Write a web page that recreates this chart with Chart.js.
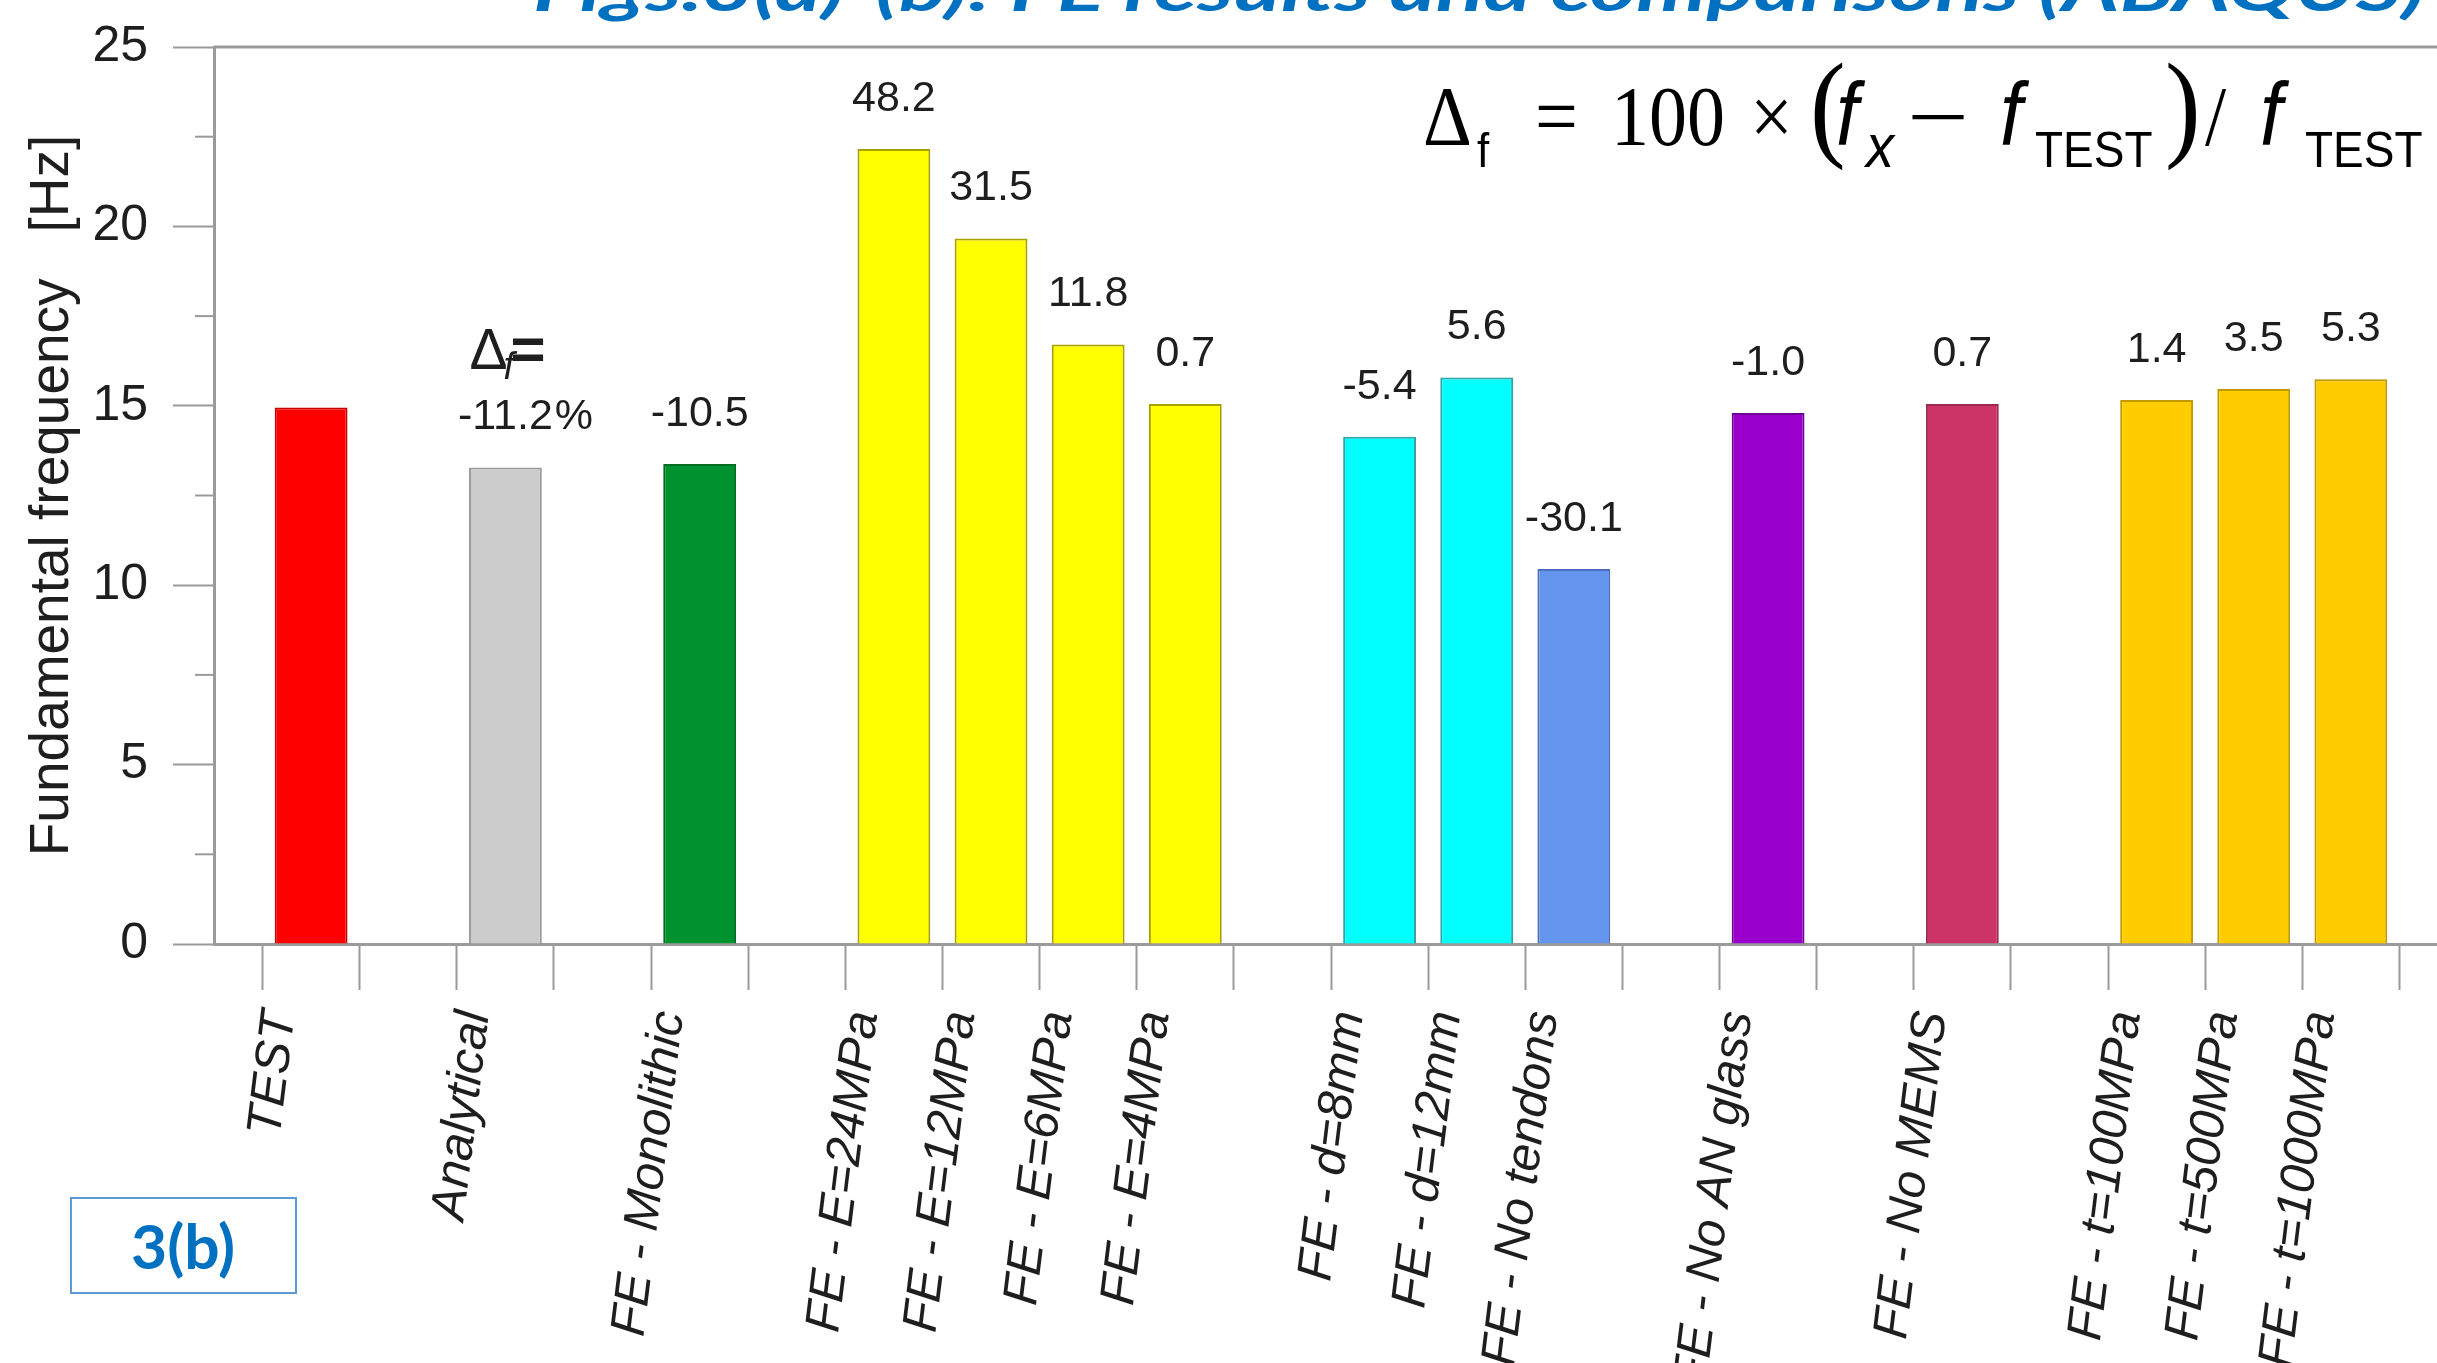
<!DOCTYPE html>
<html>
<head>
<meta charset="utf-8">
<title>Fundamental frequency – FE results and comparisons</title>
<script src="https://cdn.jsdelivr.net/npm/chart.js@4.4.1/dist/chart.umd.min.js"></script>
<style>
  html, body { margin: 0; padding: 0; background: #ffffff; overflow: hidden; width: 2437px; height: 1363px; }
  #plot { position: absolute; left: 0; top: 0; width: 2448px; height: 1363px; }
  #overlay { position: absolute; left: 0; top: 0; width: 2437px; height: 1363px; pointer-events: none; }
</style>
</head>
<body>
<div id="plot"><canvas id="freqChart"></canvas></div>

<svg id="overlay" xmlns="http://www.w3.org/2000/svg" width="2437" height="1363" viewBox="0 0 2437 1363">
  <!-- slide heading (its upper part runs off the top of the page) -->
  <text x="533" y="11" textLength="1892" lengthAdjust="spacingAndGlyphs"
        font-family="Lato, 'Open Sans', sans-serif" font-weight="700" font-style="italic"
        font-size="62" fill="#0070C0">Figs.3(a)-(b): FE results and comparisons (ABAQUS)</text>

  <!-- definition of the percentage difference -->
  <g transform="translate(0,145) scale(1,1.1) translate(0,-145)" fill="#000000">
    <text x="1423" y="145" font-family="'Liberation Serif', serif" font-size="76">Δ</text>
    <text x="1477" y="165" font-family="'Liberation Sans', sans-serif" font-size="44">f</text>
    <text x="1535" y="145" font-family="'Liberation Serif', serif" font-size="76">=</text>
    <text x="1611" y="145" font-family="'Liberation Serif', serif" font-size="76">100</text>
    <text x="1750" y="145" font-family="'Liberation Serif', serif" font-size="76">×</text>
    <text x="1810" y="145" font-family="'Liberation Serif', serif" font-size="107">(</text>
    <text x="1836" y="145" font-family="'Liberation Sans', sans-serif" font-style="italic" font-size="80">f</text>
    <text x="1866" y="165" font-family="'Liberation Sans', sans-serif" font-style="italic" font-size="56">x</text>
    <text x="1907" y="145" textLength="62" lengthAdjust="spacingAndGlyphs" font-family="'Liberation Serif', serif" font-size="76">−</text>
    <text x="2000" y="145" font-family="'Liberation Sans', sans-serif" font-style="italic" font-size="80">f</text>
    <text x="2035" y="165" font-family="'Liberation Sans', sans-serif" font-size="46">TEST</text>
    <text x="2165" y="145" font-family="'Liberation Serif', serif" font-size="107">)</text>
    <text x="2205" y="145" font-family="'Liberation Serif', serif" font-size="76">/</text>
    <text x="2260" y="145" font-family="'Liberation Sans', sans-serif" font-style="italic" font-size="80">f</text>
    <text x="2305" y="165" font-family="'Liberation Sans', sans-serif" font-size="46">TEST</text>
  </g>

  <!-- panel tag -->
  <rect x="71" y="1198" width="225" height="95" fill="#ffffff" stroke="#5B9BD5" stroke-width="2"/>
  <text x="183" y="1269" text-anchor="middle" textLength="104" lengthAdjust="spacingAndGlyphs"
        font-family="Lato, 'Open Sans', sans-serif" font-weight="700" font-size="62" fill="#0070C0">3(b)</text>
</svg>

<script>
// ---- data -------------------------------------------------------------
const categories = [
  'TEST', 'Analytical', 'FE - Monolithic',
  'FE - E=24MPa', 'FE - E=12MPa', 'FE - E=6MPa', 'FE - E=4MPa',
  'FE - d=8mm', 'FE - d=12mm', 'FE - No tendons',
  'FE - No AN glass', 'FE - No MEMS',
  'FE - t=100MPa', 'FE - t=500MPa', 'FE - t=1000MPa'
];
// which cluster each case belongs to (clusters are separated by an empty slot)
const groupIndex = [0, 1, 2, 3, 3, 3, 3, 4, 4, 4, 5, 6, 7, 7, 7];
// fundamental frequency [Hz]
const frequencyHz = [14.95, 13.28, 13.38, 22.16, 19.66, 16.71, 15.05, 14.14, 15.79, 10.45, 14.80, 15.05, 15.16, 15.47, 15.74];
// difference from TEST, printed over each bar
const deltaLabels = ['', '-11.2%', '-10.5', '48.2', '31.5', '11.8', '0.7', '-5.4', '5.6', '-30.1', '-1.0', '0.7', '1.4', '3.5', '5.3'];
const yTickValues = [0, 5, 10, 15, 20, 25];

// ---- styles -----------------------------------------------------------
const barFill = ['#FF0000', '#CCCCCC', '#00922F', '#FFFF00', '#FFFF00', '#FFFF00', '#FFFF00',
                 '#00FFFF', '#00FFFF', '#6495ED', '#9900CC', '#CC3366', '#FFCC00', '#FFCC00', '#FFCC00'];
const barEdge = ['#C80000', '#9A9A9A', '#006E22', '#A8A200', '#A8A200', '#A8A200', '#A8A200',
                 '#2FA5A5', '#2FA5A5', '#4A6FBE', '#6E0096', '#9C2A52', '#C09A00', '#C09A00', '#C09A00'];
const AXIS_GREY = '#9a9a9a';
const INK = '#1e1e1e';
const SANS = '"Liberation Sans", Arial, Helvetica, sans-serif';

// ---- category slots with an empty slot between clusters and at both ends
const slotLabels = [''], slotValues = [null], slotFill = ['rgba(0,0,0,0)'], slotEdge = ['rgba(0,0,0,0)'], slotDelta = [''];
categories.forEach((name, i) => {
  if (i > 0 && groupIndex[i] !== groupIndex[i - 1]) {
    slotLabels.push(''); slotValues.push(null); slotFill.push('rgba(0,0,0,0)'); slotEdge.push('rgba(0,0,0,0)'); slotDelta.push('');
  }
  slotLabels.push(name); slotValues.push(frequencyHz[i]); slotFill.push(barFill[i]); slotEdge.push(barEdge[i]); slotDelta.push(deltaLabels[i]);
});
slotLabels.push(''); slotValues.push(null); slotFill.push('rgba(0,0,0,0)'); slotEdge.push('rgba(0,0,0,0)'); slotDelta.push('');

// frame line along the top and short minor ticks on the value axis
const frameAndMinorTicks = {
  id: 'frameAndMinorTicks',
  afterDraw(chart) {
    const { ctx, chartArea, scales } = chart;
    ctx.save();
    ctx.strokeStyle = AXIS_GREY;
    ctx.lineWidth = 3;
    ctx.beginPath();
    ctx.moveTo(chartArea.left, chartArea.top);
    ctx.lineTo(chartArea.right, chartArea.top);
    ctx.stroke();
    ctx.lineWidth = 2;
    for (let k = 0; k < yTickValues.length - 1; k++) {
      const v = (yTickValues[k] + yTickValues[k + 1]) / 2;
      const y = scales.y.getPixelForValue(v);
      ctx.beginPath();
      ctx.moveTo(chartArea.left - 19, y);
      ctx.lineTo(chartArea.left, y);
      ctx.stroke();
    }
    ctx.restore();
  }
};

// percentage differences printed above the bars
const deltaText = {
  id: 'deltaText',
  afterDatasetsDraw(chart) {
    const { ctx } = chart;
    const meta = chart.getDatasetMeta(0);
    ctx.save();
    ctx.fillStyle = INK;
    slotDelta.forEach((txt, i) => {
      if (!txt) return;
      const bar = meta.data[i];
      const hasPct = txt.endsWith('%');
      const num = hasPct ? txt.slice(0, -1) : txt;
      ctx.font = '43px ' + SANS;
      ctx.textAlign = 'center';
      ctx.textBaseline = 'middle';
      ctx.fillText(num, bar.x, bar.y - 50);
      if (hasPct) {
        const w = ctx.measureText(num).width;
        ctx.textAlign = 'left';
        ctx.fillText('%', bar.x + w / 2 + 2, bar.y - 50);
        // "Δf=" heading above the first percentage
        ctx.textBaseline = 'alphabetic';
        ctx.font = '57px ' + SANS;
        ctx.fillText('Δ', bar.x - 36, bar.y - 99);
        ctx.font = 'italic 38px ' + SANS;
        ctx.fillText('f', bar.x - 2, bar.y - 89);
        ctx.font = 'bold 60px ' + SANS;
        ctx.fillText('=', bar.x + 5, bar.y - 99);
      }
    });
    ctx.restore();
  }
};

new Chart(document.getElementById('freqChart'), {
  type: 'bar',
  data: {
    labels: slotLabels,
    datasets: [{
      data: slotValues,
      backgroundColor: slotFill,
      borderColor: slotEdge,
      borderWidth: 2,
      barPercentage: 0.75,
      categoryPercentage: 1
    }]
  },
  options: {
    responsive: true,
    maintainAspectRatio: false,
    animation: false,
    events: [],
    layout: { padding: { top: 47, left: 0, right: 0, bottom: 0 } },
    plugins: { legend: { display: false }, tooltip: { enabled: false } },
    scales: {
      x: {
        type: 'category',
        offset: false,
        grid: {
          drawOnChartArea: false,
          drawTicks: true,
          tickLength: 46,
          tickWidth: 2,
          tickColor: (c) => (c.index === 0 ? 'rgba(0,0,0,0)' : AXIS_GREY)
        },
        border: { display: true, color: AXIS_GREY, width: 3 },
        ticks: {
          autoSkip: false,
          minRotation: 83,
          maxRotation: 83,
          padding: 18,
          labelOffset: -30,
          color: INK,
          font: { family: SANS, size: 49, style: 'italic' }
        },
        afterFit(scale) {
          scale.height = 1363 - 944;
          scale.paddingLeft = 0;
          scale.paddingRight = 0;
        }
      },
      y: {
        min: yTickValues[0],
        max: yTickValues[yTickValues.length - 1],
        ticks: {
          stepSize: yTickValues[1] - yTickValues[0],
          padding: 25,
          color: INK,
          font: { family: SANS, size: 50 }
        },
        grid: {
          drawOnChartArea: false,
          tickLength: 41,
          tickWidth: 2,
          tickColor: AXIS_GREY
        },
        border: { display: true, color: AXIS_GREY, width: 3 },
        title: {
          display: true,
          text: 'Fundamental frequency   [Hz]',
          color: INK,
          font: { family: SANS, size: 55 },
          padding: { top: 20, bottom: 0 }
        },
        afterFit(scale) {
          scale.width = 214;
          scale.paddingTop = 0;
          scale.paddingBottom = 0;
        }
      }
    }
  },
  plugins: [frameAndMinorTicks, deltaText]
});
</script>
</body>
</html>
